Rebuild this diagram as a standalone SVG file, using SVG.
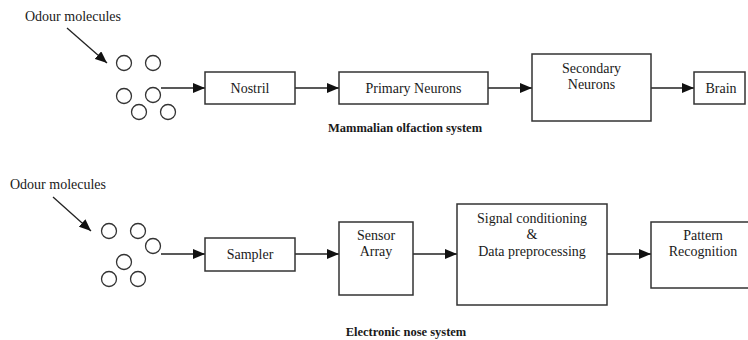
<svg xmlns="http://www.w3.org/2000/svg" width="748" height="340" viewBox="0 0 748 340" font-family="'Liberation Serif', 'Times New Roman', 'DejaVu Serif', serif">
<style>
text{font-family:'Liberation Serif','Times New Roman','DejaVu Serif',serif;fill:#1a1a1a}
.t{font-size:14px;text-anchor:middle}
.l{font-size:14px}
.cap{font-size:12.5px;font-weight:bold;text-anchor:middle}
.box{fill:#fff;stroke:#333;stroke-width:1.5}
.mol{fill:none;stroke:#333;stroke-width:1.3}
.ln{stroke:#222;stroke-width:1.3;fill:none;marker-end:url(#ah)}
</style>
<defs>
<marker id="ah" markerWidth="12" markerHeight="10" refX="12" refY="5" orient="auto" markerUnits="userSpaceOnUse">
<path d="M0,0 L12,5 L0,10 Z" fill="#111"/>
</marker>
</defs>
<rect width="748" height="340" fill="#fff"/>

<g id="connectors">
<line class="ln" x1="67" y1="28" x2="107" y2="63"/>
<line class="ln" x1="161" y1="88" x2="205" y2="88"/>
<line class="ln" x1="295" y1="88" x2="339" y2="88"/>
<line class="ln" x1="488" y1="88" x2="532" y2="88"/>
<line class="ln" x1="651" y1="88" x2="694" y2="88"/>
<line class="ln" x1="53" y1="197" x2="91" y2="231"/>
<line class="ln" x1="161" y1="254" x2="205" y2="254"/>
<line class="ln" x1="295" y1="254" x2="339" y2="254"/>
<line class="ln" x1="413" y1="254" x2="457" y2="254"/>
<line class="ln" x1="607" y1="254" x2="651" y2="254"/>
</g>

<g id="odour1">
<text class="l" x="25" y="21">Odour molecules</text>
<circle class="mol" cx="124" cy="63" r="7.5"/>
<circle class="mol" cx="153" cy="63" r="7.5"/>
<circle class="mol" cx="124" cy="96" r="7.5"/>
<circle class="mol" cx="153" cy="95" r="7.5"/>
<circle class="mol" cx="139" cy="112" r="7.5"/>
<circle class="mol" cx="168" cy="112" r="7.5"/>
</g>
<g id="nostril"><rect class="box" x="205" y="72" width="90" height="32"/><text class="t" x="250" y="93">Nostril</text></g>
<g id="primary"><rect class="box" x="339" y="72" width="149" height="32"/><text class="t" x="413.5" y="93">Primary Neurons</text></g>
<g id="secondary"><rect class="box" x="532" y="54" width="119" height="67"/><text class="t" x="591.5" y="73">Secondary</text><text class="t" x="591.5" y="89">Neurons</text></g>
<g id="brain"><rect class="box" x="694" y="72" width="51" height="32"/><text class="t" x="721" y="93">Brain</text></g>
<g id="cap1"><text class="cap" x="405" y="132">Mammalian olfaction system</text></g>

<g id="odour2">
<text class="l" x="10" y="189">Odour molecules</text>
<circle class="mol" cx="109" cy="231" r="7.5"/>
<circle class="mol" cx="138" cy="231" r="7.5"/>
<circle class="mol" cx="153" cy="246" r="7.5"/>
<circle class="mol" cx="124" cy="262" r="7.5"/>
<circle class="mol" cx="109" cy="279" r="7.5"/>
<circle class="mol" cx="138" cy="279" r="7.5"/>
</g>
<g id="sampler"><rect class="box" x="205" y="238" width="90" height="33"/><text class="t" x="250" y="259">Sampler</text></g>
<g id="sensor"><rect class="box" x="339" y="222" width="74" height="73"/><text class="t" x="376" y="240">Sensor</text><text class="t" x="376" y="256">Array</text></g>
<g id="signal"><rect class="box" x="457" y="204" width="150" height="101"/><text class="t" x="532" y="223">Signal conditioning</text><text class="t" x="532" y="239">&amp;</text><text class="t" x="532" y="256">Data preprocessing</text></g>
<g id="pattern"><rect class="box" x="651" y="222" width="104" height="66"/><text class="t" x="703" y="240">Pattern</text><text class="t" x="703" y="256">Recognition</text></g>
<g id="cap2"><text class="cap" x="406" y="336">Electronic nose system</text></g>
</svg>
